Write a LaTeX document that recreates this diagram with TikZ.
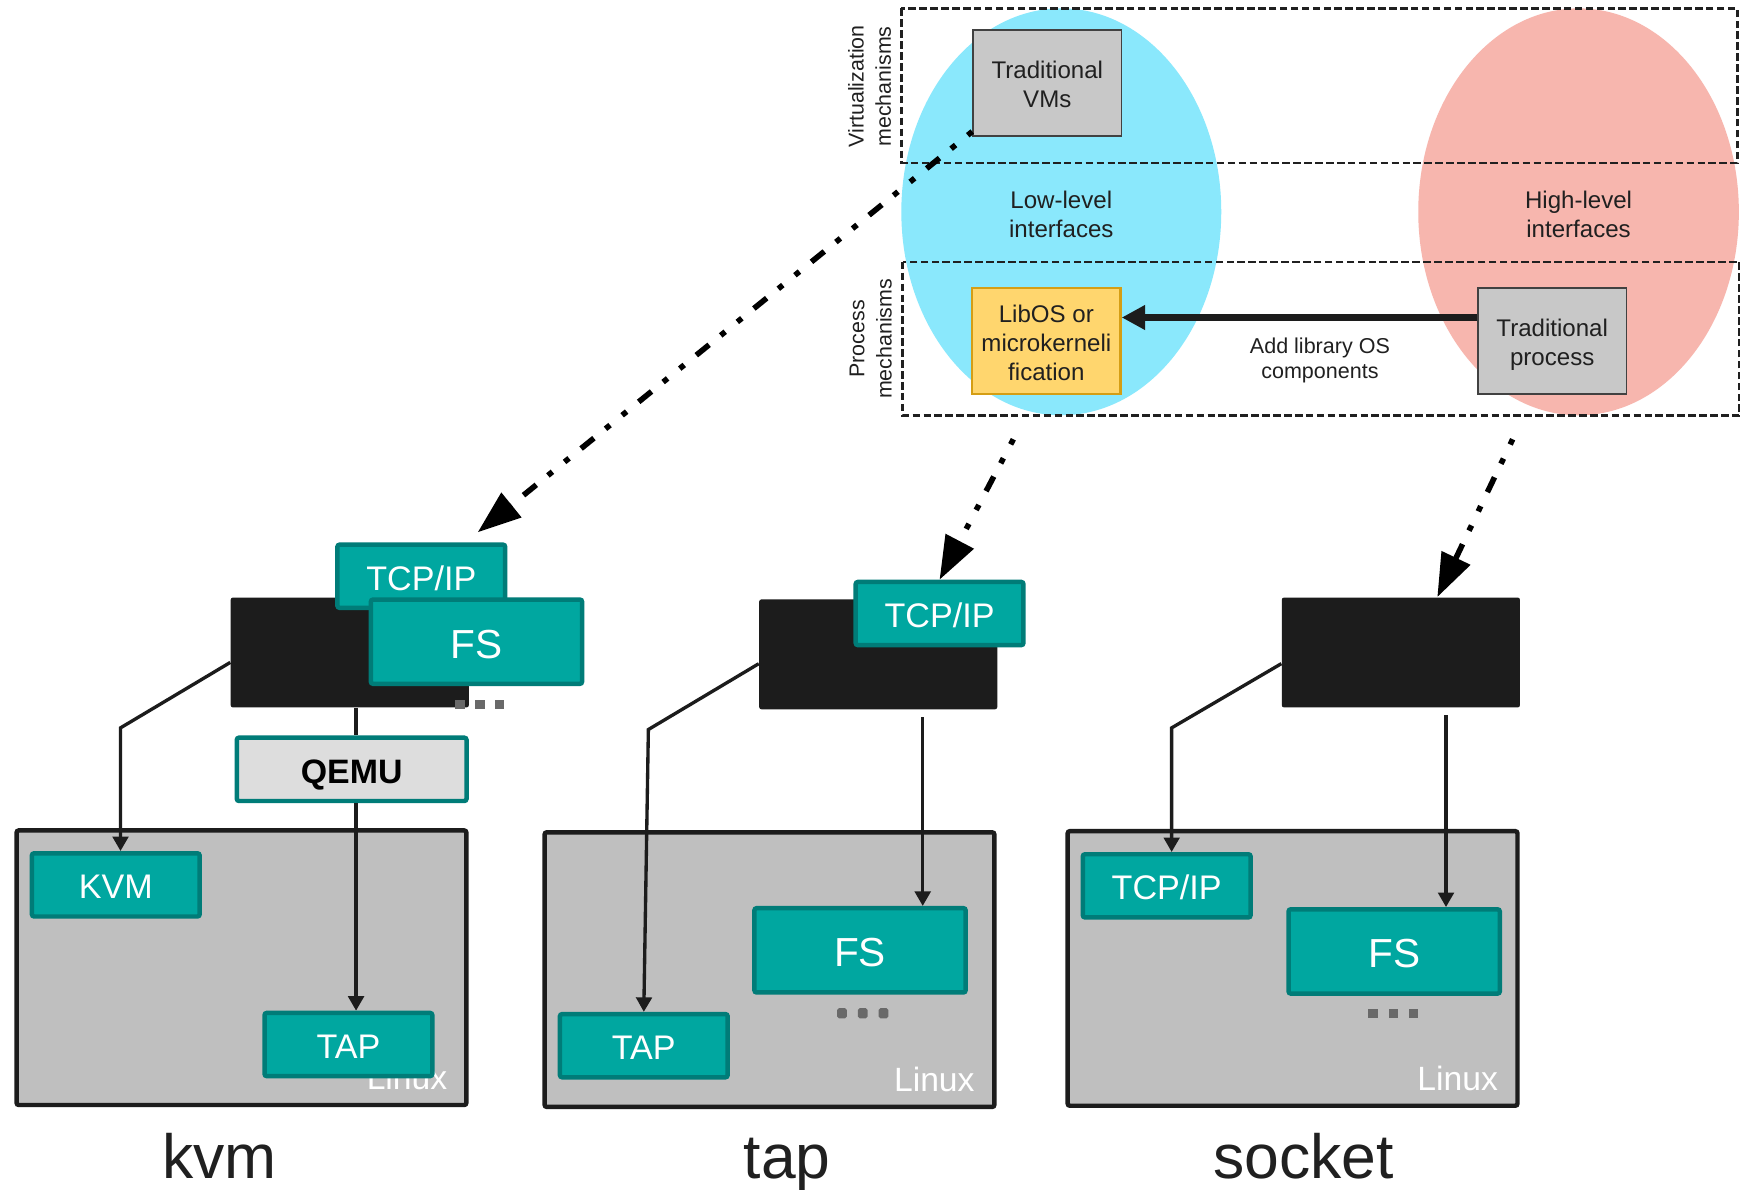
\documentclass[tikz,border=0pt]{standalone}
\usepackage{fontspec}
\setmainfont{Liberation Sans}
\usetikzlibrary{arrows.meta}

\definecolor{lowblue}{RGB}{138,232,252}
\definecolor{highpink}{RGB}{247,182,174}
\definecolor{tealfill}{RGB}{0,167,160}
\definecolor{tealedge}{RGB}{0,124,120}
\definecolor{inkblack}{RGB}{28,28,28}
\definecolor{panelgray}{RGB}{191,191,191}
\definecolor{boxgray}{RGB}{200,200,200}
\definecolor{qemugray}{RGB}{221,221,221}
\definecolor{libyellow}{RGB}{255,214,110}
\definecolor{libedge}{RGB}{213,158,20}
\definecolor{dotgray}{RGB}{105,105,105}
\definecolor{textdark}{RGB}{32,32,32}

\newcommand{\fsz}[2]{\fontsize{#1}{#2}\selectfont}

\begin{document}
\begin{tikzpicture}[x=0.5pt,y=-0.5pt,
  module/.style={draw=tealedge, fill=tealfill, line width=2pt, rounded corners=1pt,
    text=white, inner sep=0pt, text depth=0pt},
  smallmod/.style={module, minimum width=75.25pt, minimum height=28.35pt,
    font=\fsz{15.3pt}{18pt}, text height=12.55pt},
  fsmod/.style={module, minimum width=94.75pt, minimum height=37.8pt,
    font=\fsz{18.2pt}{21pt}, text height=14.7pt},
  qemubox/.style={draw=tealedge, fill=qemugray, line width=2pt, rounded corners=1pt,
    inner sep=0pt, minimum width=103.05pt, minimum height=28.4pt,
    font=\fsz{15.2pt}{18pt}\bfseries, text=black, text height=12.6pt, text depth=0pt},
  hostblock/.style={fill=inkblack, draw=none, rounded corners=1pt,
    minimum width=106.8pt, minimum height=49.3pt, inner sep=0pt},
  linuxpanel/.style={draw=inkblack, fill=panelgray, line width=2pt, rounded corners=1pt,
    minimum width=201.75pt, minimum height=123.15pt, inner sep=0pt},
  linuxtag/.style={text=white, font=\fsz{15.1pt}{18pt}, anchor=base east, inner sep=0pt},
  link/.style={draw=inkblack, line width=1.5pt, line join=miter},
  linkarrow/.style={link, -{Triangle[length=6.5pt,width=7pt]}},
  mechframe/.style={draw=textdark, line width=1.05pt, dash pattern=on 3.4pt off 1.5pt},
  conceptbox/.style={line width=0.75pt, draw=textdark!85, fill=boxgray,
    minimum width=66.6pt, minimum height=47.5pt, inner sep=0pt},
  libbox/.style={conceptbox, fill=libyellow, draw=libedge, line width=1pt},
  boxtext/.style={align=center, inner sep=0pt, text=textdark, font=\fsz{10.8pt}{13pt}},
  levellabel/.style={align=center, text=textdark, font=\fsz{10.8pt}{13pt}, inner sep=0pt},
  sidelabel/.style={rotate=90, align=center, text=textdark, font=\fsz{9.6pt}{12.25pt},
    inner sep=0pt},
  guidearrow/.style={draw=black, line width=2.5pt,
    dash pattern=on 2.6pt off 7pt on 2.6pt off 6.7pt on 7.4pt off 6.95pt,
    -{Triangle[length=19.5pt,width=13.75pt]}},
  caption/.style={font=\fsz{28pt}{32pt}, anchor=base, inner sep=0pt, text=textdark}
]
\useasboundingbox (0,0) rectangle (1568,1067);
\fill[white] (0,0) rectangle (1568,1067);

% interface regions
\fill[lowblue] (952,190) ellipse [x radius=143.5, y radius=182.5];
\fill[highpink] (1416,190) ellipse [x radius=143.8, y radius=182.5];

% mechanism bands
\draw[mechframe] (808.6,7.6) rectangle (1558.6,146.1);
\draw[mechframe] (809.6,234.8) rectangle (1560.2,372.8);

\node[sidelabel] (virtlbl) at (780,77.5) {Virtualization\\mechanisms};
\node[sidelabel] (proclbl) at (781,304) {Process\\mechanisms};

\node[levellabel] (lowlbl) at (952,192) {Low-level\\interfaces};
\node[levellabel] (highlbl) at (1416,192) {High-level\\interfaces};

\node[conceptbox] (vm) at (939.45,74.6) {};
\node[boxtext] (vmtext) at ([yshift=-0.7pt]vm.center) {Traditional\\VMs};
\node[libbox] (libos) at (938.6,306) {};
\node[boxtext] (libtext) at ([yshift=-0.7pt]libos.center) {LibOS or\\microkerneli\\fication};
\node[conceptbox] (tproc) at (1392.35,306) {};
\node[boxtext] (tproctext) at ([yshift=-1.8pt]tproc.center) {Traditional\\process};

\draw[draw=inkblack, line width=3.25pt, -{Triangle[length=10.5pt,width=10.5pt]}]
  ([yshift=10.6pt]tproc.west) -- ([yshift=10.6pt]libos.east);
\node[align=center, text=textdark, font=\fsz{9.65pt}{11.2pt}, inner sep=0pt]
  (addlbl) at (1184,323.4) {Add library OS\\components};

% ---------- kvm ----------
\node[hostblock] (kblk) at (313.75,585.3) {};
\node[smallmod] (ktcp) at (377.9,516.9) {TCP/IP};
\node[fsmod] (kfs) at (427.4,575.6) {FS};
\foreach \dx in {412.8,430.5,448.1}
  \fill[dotgray] (\dx,631.7) +(-4.3,-4) rectangle +(4.3,4);
\node[qemubox] (qemu) at (315.45,690.1) {QEMU};
\node[linuxpanel] (kpanel) at (216.6,868.05) {};
\node[linuxtag] (klinux) at (401.6,977) {Linux};
\node[smallmod] (kvm) at (103.85,793.75) {KVM};
\node[smallmod] (ktap) at (312.55,936.95) {TAP};

\coordinate (kbend) at (108.1,652.9);
\coordinate (kstem) at (319.4,700);
\draw[linkarrow] ([yshift=-4.45pt]kblk.west) -- (kbend) -- (kbend |- kvm.north);
\draw[link] (kstem |- kblk.south) -- (kstem |- qemu.north);
\draw[linkarrow] (kstem |- qemu.south) -- (kstem |- ktap.north);

% ---------- tap ----------
\node[hostblock] (tblk) at (787.8,586.95) {};
\node[smallmod] (ttcp) at (842.8,550.35) {TCP/IP};
\node[linuxpanel] (tpanel) at (690.25,869.75) {};
\node[linuxtag] (tlinux) at (874.6,979) {Linux};
\node[fsmod] (tfs) at (771.45,852.45) {FS};
\foreach \dx in {755.3,773.9,792.5}
  \fill[dotgray, rounded corners=0.8pt] (\dx,908.9) +(-4.3,-4.5) rectangle +(4.3,4.5);
\node[smallmod] (ttap) at (577.5,938) {TAP};

\coordinate (tbend) at (581.6,654.4);
\coordinate (tstem) at (827.7,643.3);
\draw[linkarrow] ([yshift=-4.2pt]tblk.west) -- (tbend) -- (ttap.north);
\draw[linkarrow] (tstem) -- (tstem |- tfs.north);

% ---------- socket ----------
\node[hostblock] (sblk) at (1256.6,585.3) {};
\node[linuxpanel] (spanel) at (1159.45,868.7) {};
\node[linuxtag] (slinux) at (1344,978) {Linux};
\node[smallmod] (stcp) at (1046.55,794.6) {TCP/IP};
\node[fsmod] (sfs) at (1250.6,853.45) {FS};
\foreach \dx in {1231.6,1249.9,1268.1}
  \fill[dotgray] (\dx,909.4) +(-4.3,-4) rectangle +(4.3,4);

\coordinate (sbend) at (1051,652.9);
\coordinate (sstem) at (1297.1,641.7);
\draw[linkarrow] ([yshift=-5pt]sblk.west) -- (sbend) -- (sbend |- stcp.north);
\draw[linkarrow] (sstem) -- (sstem |- sfs.north);

% mechanisms mapped onto the three back-ends
\coordinate (kvmaim) at (428.5,477.5);
\coordinate (libfoot) at (909,394);
\coordinate (procfoot) at (1356.9,394);
\draw[guidearrow] ([yshift=-21.7pt]vm.west) -- (kvmaim);
\draw[guidearrow] (libfoot) -- (ttcp.north);
\draw[guidearrow] (procfoot) -- ([xshift=16.35pt]sblk.north);

% captions
\node[caption] (kvmcap) at (196.9,1057) {kvm};
\node[caption] (tapcap) at (706,1057) {tap};
\node[caption] (sockcap) at (1169.5,1057) {socket};
\end{tikzpicture}
\end{document}
